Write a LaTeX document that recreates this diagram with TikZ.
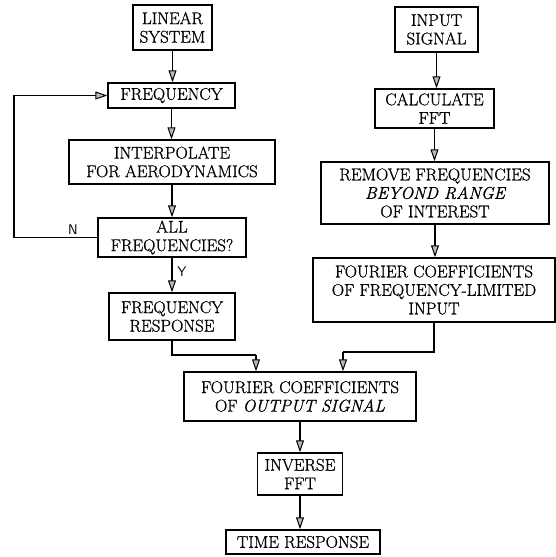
\documentclass[tikz,border=0pt]{standalone}
\usepackage{fontspec}
\usetikzlibrary{arrows.meta,calc}
\newfontfamily\boxfont{Latin Modern Roman}[FakeBold=0.9]
\begin{document}
\begin{tikzpicture}[x=1pt,y=-1pt,
  box/.style={draw, line width=1.5pt, inner sep=0pt, align=center,
              font=\boxfont\fontsize{17}{18.5}\selectfont},
  arr/.style={line width=1.5pt,
              -{Triangle[length=12pt,width=8pt,open,fill=gray!55,line width=1pt]}},
  wire/.style={line width=1.5pt},
  lbl/.style={font=\sffamily\fontsize{14}{14}\selectfont, inner sep=0pt}]
\useasboundingbox (0,0) rectangle (556,557);
% left column
\node[box, minimum width=79pt,  minimum height=45pt] (lin)    at (172.5,27.5) {LINEAR\\SYSTEM};
\node[box, minimum width=127pt, minimum height=25pt] (freq)   at (171.5,95.5) {FREQUENCY};
\node[box, minimum width=206pt, minimum height=44pt] (interp) at (172,162)    {INTERPOLATE\\FOR AERODYNAMICS};
\node[box, minimum width=148pt, minimum height=39pt] (all)    at (172,237.5)  {ALL\\FREQUENCIES?};
\node[box, minimum width=126pt, minimum height=47pt] (fr)     at (172,316.5)  {FREQUENCY\\RESPONSE};
% right column
\node[box, minimum width=83pt,  minimum height=45pt] (inp)    at (436.5,29.5) {INPUT\\SIGNAL};
\node[box, minimum width=119pt, minimum height=39pt] (fft)    at (434.5,108.5){CALCULATE\\FFT};
\node[box, minimum width=228pt, minimum height=62pt] (rem)    at (435,193)    {REMOVE FREQUENCIES\\{\slshape BEYOND RANGE}\\OF INTEREST};
\node[box, minimum width=242pt, minimum height=64pt] (lim)    at (434,290)    {FOURIER COEFFICIENTS\\OF FREQUENCY-LIMITED\\INPUT};
% bottom
\node[box, minimum width=232pt, minimum height=49pt] (out)    at (300,396.5)  {FOURIER COEFFICIENTS\\OF {\slshape OUTPUT SIGNAL}};
\node[box, minimum width=85pt,  minimum height=42pt] (inv)    at (300,474)    {INVERSE\\FFT};
\node[box, minimum width=154pt, minimum height=24pt] (time)   at (303,542)    {TIME RESPONSE};
% junctions
\coordinate (loopx) at (14,0);
\coordinate (outL) at (256,0);
\coordinate (outR) at (343,0);
\coordinate (jL) at (0,355);
\coordinate (jR) at (0,352);
% connectors
\draw[arr] (lin.south) -- (lin.south |- freq.north);
\draw[arr] (freq.south) -- (freq.south |- interp.north);
\draw[arr] (interp.south) -- (interp.south |- all.north);
\draw[arr] (all.south) -- (all.south |- fr.north);
\draw[arr] (all.west) -| (loopx |- freq.west) -- (freq.west);
\draw[arr] (inp.south) -- (inp.south |- fft.north);
\draw[arr] (fft.south) -- (fft.south |- rem.north);
\draw[arr] (rem.south) -- (rem.south |- lim.north);
\draw[wire] (fr.south) -- (fr.south |- jL) -- (outL |- jL);
\draw[arr] (outL |- jL) -- (outL |- out.north);
\draw[wire] (lim.south) -- (lim.south |- jR) -- (outR |- jR);
\draw[arr] (outR |- jR) -- (outR |- out.north);
\draw[arr] (out.south) -- (out.south |- inv.north);
\draw[arr] (inv.south) -- (inv.south |- time.north);
% labels
\node[lbl] (nlab) at (73,230) {N};
\node[lbl] (ylab) at (182,272) {Y};
\end{tikzpicture}
\end{document}
